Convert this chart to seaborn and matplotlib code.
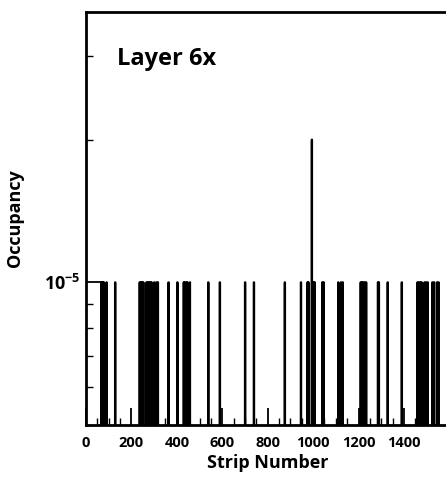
import numpy as np
import pandas as pd
import seaborn as sns
import matplotlib
matplotlib.use("Agg")
import matplotlib.pyplot as plt
from matplotlib.ticker import FixedLocator, MultipleLocator, LogLocator, NullFormatter

# Strips with hits (occupancy 1e-5) and the single strip with 2e-5
hit_strips = [68, 73, 78, 90, 128,
              236, 241, 247, 252, 266, 271, 277, 283, 288, 300, 310, 316, 363,
              402, 430, 434, 441, 446, 457, 538, 589, 700, 739,
              875, 946, 975, 979, 1001, 1006, 1040, 1046, 1110, 1122, 1130,
              1209, 1214, 1220, 1226, 1233, 1285, 1289, 1328, 1390,
              1459, 1465, 1472, 1477, 1490, 1497, 1504, 1525, 1532, 1545, 1552]
hit_occupancy = [1e-5] * len(hit_strips)
spike_strips = [994]
spike_occupancy = [2e-5]

x_ticks = [0, 200, 400, 600, 800, 1000, 1200, 1400]
layer_name = "Layer 6x"

df = pd.DataFrame({"strip": hit_strips + spike_strips,
                   "occupancy": hit_occupancy + spike_occupancy})

sns.set_style("ticks")
plt.rcParams['font.family'] = ['Open Sans', 'DejaVu Sans']
plt.rcParams['font.weight'] = 'bold'
plt.rcParams['mathtext.default'] = 'regular'
for key in ['text.color', 'axes.edgecolor', 'axes.labelcolor', 'xtick.color', 'ytick.color']:
    plt.rcParams[key] = 'black'

fig = plt.figure(figsize=(4.46, 4.78), dpi=100)
ax = fig.add_axes([86 / 446, 53 / 478, 363.4 / 446, 413 / 478])

sns.histplot(data=df, x="strip", weights="occupancy", binwidth=1, binrange=(0, 1600),
             element="step", fill=False, color="black", linewidth=1.6, ax=ax)

ax.set_yscale("log")
ax.set_xlim(0, 1600)
ax.set_ylim(5e-6, 3.72e-5)

ax.xaxis.set_major_locator(FixedLocator(x_ticks))
ax.xaxis.set_minor_locator(MultipleLocator(50))
ax.yaxis.set_major_locator(FixedLocator([1e-5]))
ax.yaxis.set_minor_locator(LogLocator(base=10, subs=np.arange(2, 10)))
ax.yaxis.set_minor_formatter(NullFormatter())
ax.set_yticklabels([r"$10^{-5}$"])

ax.tick_params(which="major", direction="in", length=12, width=1.3,
               labelsize=10.5, pad=8, top=False, right=False)
ax.tick_params(which="minor", direction="in", length=5, width=1.0,
               top=False, right=False)
ax.tick_params(axis="y", which="major", labelsize=13, pad=4)

for side in ["left", "bottom", "top"]:
    ax.spines[side].set_linewidth(2)
ax.spines["right"].set_visible(False)

ax.set_xlabel("Strip Number", fontsize=13, fontweight="bold", labelpad=3)
ax.set_ylabel("Occupancy", fontsize=13, fontweight="bold", labelpad=14)

ax.text(0.085, 0.885, layer_name, transform=ax.transAxes, fontsize=17,
        fontweight="bold", ha="left", va="center")

fig.savefig("out.png", dpi=100)
